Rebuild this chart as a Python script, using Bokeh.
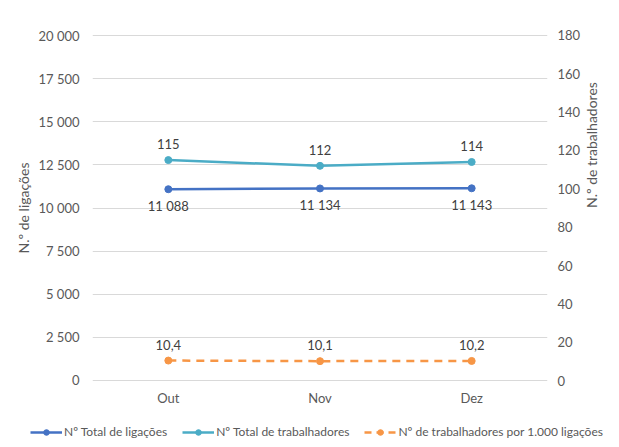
import math
from bokeh.plotting import figure
from bokeh.layouts import column
from bokeh.models import (Range1d, FactorRange, LinearAxis, FixedTicker, CustomJSTickFormatter,
                          Legend, LegendItem, ColumnDataSource, LabelSet)
from bokeh.core.properties import value
from bokeh.embed import file_html
from bokeh.resources import INLINE

months = ["Out", "Nov", "Dez"]
ligacoes = [11088, 11134, 11143]
trabalhadores = [115, 112, 114]
por_mil = [10.4, 10.1, 10.2]
ligacoes_labels = ["11 088", "11 134", "11 143"]
trabalhadores_labels = ["115", "112", "114"]
por_mil_labels = ["10,4", "10,1", "10,2"]
left_ticks = [0, 2500, 5000, 7500, 10000, 12500, 15000, 17500, 20000]
right_ticks = [0, 20, 40, 60, 80, 100, 120, 140, 160, 180]
series_names = ["Nº Total de ligações", "Nº Total de trabalhadores", "Nº de trabalhadores por 1.000 ligações"]

FONT = "Lato"
TICK_COLOR = "#595959"
LABEL_COLOR = "#404040"
C_LIG = "#4472C4"
C_TRAB = "#4BACC6"
C_MIL = "#F79646"

p = figure(width=611, height=415, x_range=FactorRange(*months),
           y_range=Range1d(-58, 20058), output_backend="svg", toolbar_location=None,
           min_border_left=92, min_border_right=61, min_border_top=34, min_border_bottom=34)
p.extra_y_ranges = {"right": Range1d(-0.52, 180.52)}
p.outline_line_color = None
p.background_fill_color = "white"
p.border_fill_color = "white"


def style_axis(ax, standoff):
    ax.axis_line_color = None
    ax.major_tick_line_color = None
    ax.minor_tick_line_color = None
    ax.major_tick_out = 0
    ax.major_tick_in = 0
    ax.minor_tick_out = 0
    ax.minor_tick_in = 0
    ax.major_label_text_font = FONT
    ax.major_label_text_font_size = "13px"
    ax.major_label_text_color = TICK_COLOR
    ax.major_label_standoff = standoff
    ax.axis_label_text_font = FONT
    ax.axis_label_text_font_style = "normal"
    ax.axis_label_text_font_size = "14px"
    ax.axis_label_text_color = TICK_COLOR


fmt = CustomJSTickFormatter(code="return tick.toString().replace(/\\B(?=(\\d{3})+(?!\\d))/g, ' ');")

la = p.yaxis[0]
la.ticker = FixedTicker(ticks=left_ticks)
la.formatter = fmt
style_axis(la, 13)
la.axis_label = "N.º de ligações"
la.axis_label_standoff = 3

ra = LinearAxis(y_range_name="right", ticker=FixedTicker(ticks=right_ticks))
style_axis(ra, 10)
ra.axis_label = "N.º de trabalhadores"
ra.axis_label_standoff = 8
try:
    ra.axis_label_orientation = math.pi / 2
    ra.axis_label_text_align = "center"
except Exception:
    pass
p.add_layout(ra, "right")

xa = p.xaxis[0]
style_axis(xa, 8)

p.xgrid.grid_line_color = None
p.ygrid.ticker = FixedTicker(ticks=left_ticks)
p.ygrid.grid_line_color = "#d9d9d9"
p.ygrid.grid_line_width = 1

src = ColumnDataSource(dict(m=months, lig=ligacoes, trab=trabalhadores, mil=por_mil,
                            lig_l=ligacoes_labels, trab_l=trabalhadores_labels, mil_l=por_mil_labels))

line_styles = [
    ("lig", C_LIG, "solid", "default"),
    ("trab", C_TRAB, "solid", "right"),
    ("mil", C_MIL, "8 6", "right"),
]
for col, c, dash, rng in line_styles:
    p.line("m", col, source=src, line_color=c, line_width=2.5, line_dash=dash, y_range_name=rng)
    p.scatter("m", col, source=src, size=7, color=c, y_range_name=rng)

common = dict(text_font=value(FONT), text_font_size="13px", text_color=LABEL_COLOR, text_align="center")
p.add_layout(LabelSet(x="m", y="lig", text="lig_l", source=src, y_offset=-17, text_baseline="middle", **common))
p.add_layout(LabelSet(x="m", y="trab", text="trab_l", source=src, y_range_name="right", y_offset=16, text_baseline="middle", **common))
p.add_layout(LabelSet(x="m", y="mil", text="mil_l", source=src, y_range_name="right", y_offset=16, text_baseline="middle", **common))

# legend strip (its own renderers use the same data, kept out of view by its range)
q = figure(width=611, height=24, x_range=FactorRange(*months), y_range=Range1d(-1000, -900),
           output_backend="svg", toolbar_location=None, min_border=0,
           x_axis_location=None, y_axis_location=None)
q.outline_line_color = None
q.grid.visible = False
q.background_fill_color = "white"
q.border_fill_color = "white"
for fig in (p, q):
    try:
        fig.frame_align = False
    except Exception:
        pass

items = []
for (col, c, dash, rng), name in zip(line_styles, series_names):
    rl = q.line("m", col, source=src, line_color=c, line_width=2.5,
                line_dash="7 5" if dash != "solid" else "solid")
    rs = q.scatter("m", col, source=src, size=7, color=c)
    items.append(LegendItem(label=name, renderers=[rl, rs]))

legend = Legend(items=items, orientation="horizontal", location=(30, 0), padding=0, margin=0, spacing=15,
                glyph_width=32, glyph_height=14, label_height=14, label_standoff=2,
                label_text_font=FONT, label_text_font_size="12px", label_text_color=TICK_COLOR,
                border_line_color=None, background_fill_alpha=0)
q.add_layout(legend, "center")

layout = column(p, q, spacing=0)
open("out.html", "w").write(file_html(layout, INLINE))
